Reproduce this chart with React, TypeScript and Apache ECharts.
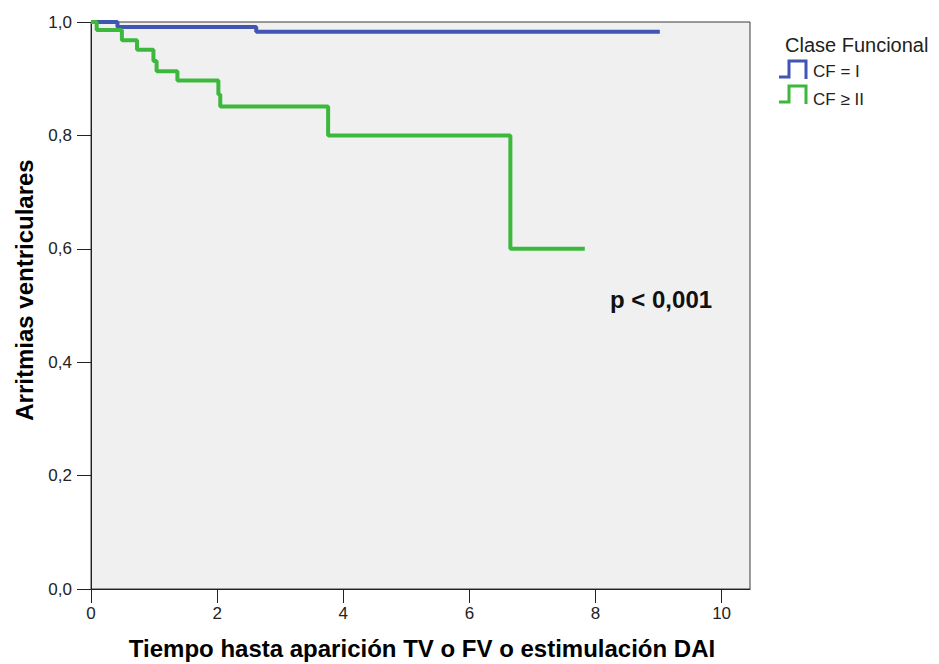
import React, { useEffect, useRef } from 'react';
import * as echarts from 'echarts';

// Kaplan–Meier estimates: event time (x) and survival after the event (y)
const cfITimes = [0, 0.42, 2.62, 9.02];
const cfISurvival = [1, 0.991, 0.983, 0.983];

const cfIITimes = [0, 0.09, 0.49, 0.73, 0.99, 1.04, 1.37, 2.02, 2.05, 3.76, 6.65, 7.83];
const cfIISurvival = [1, 0.986, 0.968, 0.951, 0.931, 0.913, 0.897, 0.872, 0.851, 0.8, 0.6, 0.6];

const seriesNames = ['CF = I', 'CF ≥ II'];
const seriesColors = ['#4055b4', '#3cb83c'];

const xTicks = [0, 2, 4, 6, 8, 10];
const yTickLabels = ['0,0', '0,2', '0,4', '0,6', '0,8', '1,0'];

const xTitle = 'Tiempo hasta aparición TV o FV o estimulación DAI';
const yTitle = 'Arritmias ventriculares';
const legendTitle = 'Clase Funcional';
const pValueText = 'p < 0,001';

const FONT = '"Liberation Sans", Arial, sans-serif';

export default function App() {
  const ref = useRef<HTMLDivElement>(null);

  useEffect(() => {
    if (!ref.current) return;
    const chart = echarts.init(ref.current, null, { renderer: 'svg' });

    const toPairs = (xs: number[], ys: number[]) => xs.map((x, i) => [x, ys[i]]);

    const legendIcon = (top: number, color: string) => ({
      type: 'polyline',
      shape: {
        points: [
          [779, top + 16],
          [789, top + 16],
          [789, top],
          [806, top],
          [806, top + 18],
        ],
      },
      style: { stroke: color, lineWidth: 3, fill: null },
    });

    const option: any = {
      animation: false,
      backgroundColor: '#ffffff',
      grid: {
        left: 91,
        right: 189,
        top: 22,
        bottom: 75,
        show: true,
        backgroundColor: '#f0f0f0',
        borderColor: '#3a3a3a',
        borderWidth: 1,
      },
      xAxis: {
        type: 'value',
        min: 0,
        max: 10.45,
        axisLine: { show: true, onZero: false, lineStyle: { color: '#222', width: 1 } },
        axisTick: { show: true, length: 14, customValues: xTicks, lineStyle: { color: '#222' } },
        axisLabel: {
          customValues: xTicks,
          margin: 16,
          fontSize: 17,
          color: '#222',
          fontFamily: FONT,
        },
        splitLine: { show: false },
      },
      yAxis: {
        type: 'value',
        min: 0,
        max: 1,
        interval: 0.2,
        axisLine: { show: true, onZero: false, lineStyle: { color: '#222', width: 1 } },
        axisTick: { show: true, length: 14, lineStyle: { color: '#222' } },
        axisLabel: {
          margin: 19,
          fontSize: 17,
          color: '#222',
          fontFamily: FONT,
          formatter: (v: number) => yTickLabels[Math.round(v / 0.2)],
        },
        splitLine: { show: false },
      },
      series: [
        {
          name: seriesNames[0],
          type: 'line',
          step: 'end',
          data: toPairs(cfITimes, cfISurvival),
          showSymbol: false,
          symbol: 'none',
          clip: false,
          lineStyle: { color: seriesColors[0], width: 4 },
          itemStyle: { color: seriesColors[0] },
        },
        {
          name: seriesNames[1],
          type: 'line',
          step: 'end',
          data: toPairs(cfIITimes, cfIISurvival),
          showSymbol: false,
          symbol: 'none',
          clip: false,
          lineStyle: { color: seriesColors[1], width: 4 },
          itemStyle: { color: seriesColors[1] },
        },
      ],
      graphic: [
        {
          type: 'text',
          x: 24,
          y: 290,
          rotation: Math.PI / 2,
          style: {
            text: yTitle,
            fontSize: 24,
            fontWeight: 'bold',
            fontFamily: FONT,
            fill: '#000',
            align: 'center',
            verticalAlign: 'middle',
          },
        },
        {
          type: 'text',
          x: 422,
          y: 648,
          style: {
            text: xTitle,
            fontSize: 24,
            fontWeight: 'bold',
            fontFamily: FONT,
            fill: '#000',
            align: 'center',
            verticalAlign: 'middle',
          },
        },
        {
          type: 'text',
          x: 610,
          y: 299,
          style: {
            text: pValueText,
            fontSize: 24,
            fontWeight: 'bold',
            fontFamily: FONT,
            fill: '#111',
            align: 'left',
            verticalAlign: 'middle',
          },
        },
        {
          type: 'text',
          x: 785,
          y: 45,
          style: {
            text: legendTitle,
            fontSize: 20,
            fontFamily: FONT,
            fill: '#222',
            align: 'left',
            verticalAlign: 'middle',
          },
        },
        legendIcon(61, seriesColors[0]),
        {
          type: 'text',
          x: 813,
          y: 71,
          style: {
            text: seriesNames[0],
            fontSize: 17,
            fontFamily: FONT,
            fill: '#222',
            align: 'left',
            verticalAlign: 'middle',
          },
        },
        legendIcon(86, seriesColors[1]),
        {
          type: 'text',
          x: 813,
          y: 99,
          style: {
            text: seriesNames[1],
            fontSize: 17,
            fontFamily: FONT,
            fill: '#222',
            align: 'left',
            verticalAlign: 'middle',
          },
        },
      ],
    };

    chart.setOption(option);
    return () => chart.dispose();
  }, []);

  return (
    <div
      ref={ref}
      style={{ position: 'fixed', left: 0, top: 0, width: 939, height: 664 }}
    />
  );
}
